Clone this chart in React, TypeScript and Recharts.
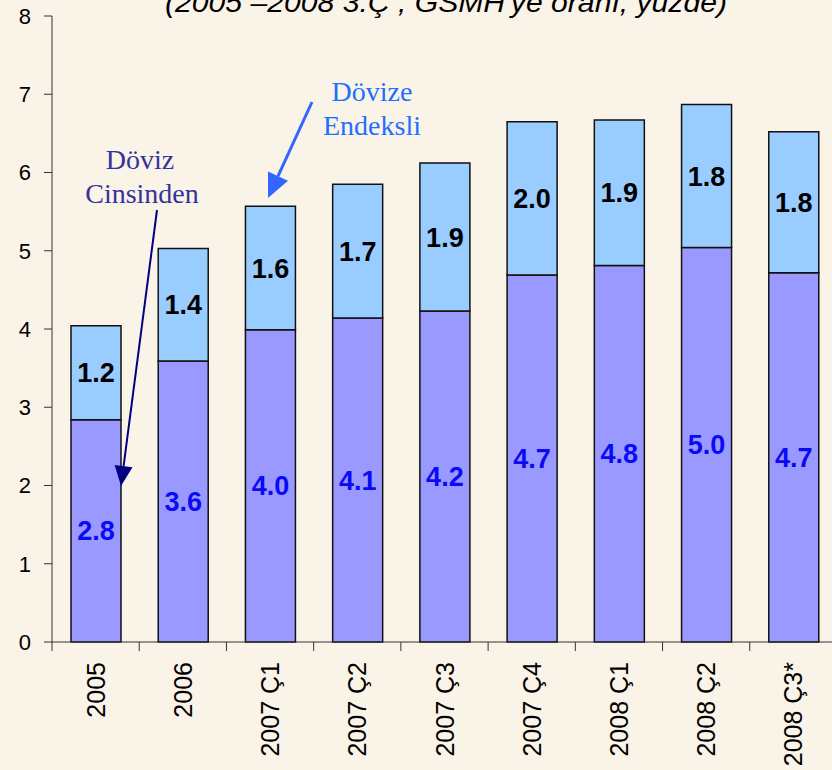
import { BarChart, Bar, XAxis, YAxis, LabelList } from 'recharts';

const periods = ['2005', '2006', '2007 Ç1', '2007 Ç2', '2007 Ç3', '2007 Ç4', '2008 Ç1', '2008 Ç2', '2008 Ç3*'];
const dovizCinsinden = [2.84, 3.59, 3.99, 4.14, 4.23, 4.69, 4.81, 5.04, 4.72];
const dovizeEndeksli = [1.2, 1.44, 1.58, 1.71, 1.89, 1.96, 1.86, 1.83, 1.8];
const yTicks = [0, 1, 2, 3, 4, 5, 6, 7, 8];

const data = periods.map((p, i) => ({
  period: p,
  cinsinden: dovizCinsinden[i],
  endeksli: dovizeEndeksli[i],
}));

const SANS = '"Liberation Sans", Arial, sans-serif';
const SERIF = '"Liberation Serif", "Times New Roman", serif';
const BAND = 785 / 9;

function CategoryTick(props: any) {
  const { x, y, payload, index } = props;
  const ty = y + 20;
  return (
    <g>
      <line x1={x - BAND / 2} x2={x - BAND / 2} y1={y} y2={y + 9} stroke="#333" strokeWidth={1} />
      {index === periods.length - 1 && (
        <line x1={x + BAND / 2} x2={x + BAND / 2} y1={y} y2={y + 9} stroke="#333" strokeWidth={1} />
      )}
      <text
        x={x}
        y={ty}
        transform={`rotate(-90, ${x}, ${ty})`}
        textAnchor="end"
        dominantBaseline="central"
        fontFamily={SANS}
        fontSize={25}
        fill="#000"
      >
        {payload.value}
      </text>
    </g>
  );
}

function Arrow({ x1, y1, x2, y2, color, len, half, width }: any) {
  const dx = x2 - x1;
  const dy = y2 - y1;
  const d = Math.hypot(dx, dy);
  const ux = dx / d;
  const uy = dy / d;
  const bx = x2 - ux * len;
  const by = y2 - uy * len;
  const pts = `${x2},${y2} ${bx - uy * half},${by + ux * half} ${bx + uy * half},${by - ux * half}`;
  return (
    <g>
      <line x1={x1} y1={y1} x2={bx} y2={by} stroke={color} strokeWidth={width} />
      <polygon points={pts} fill={color} />
    </g>
  );
}

const fmt = (v: any) => Number(v).toFixed(1);

export default function App() {
  return (
    <div
      style={{
        position: 'absolute',
        left: 0,
        top: 0,
        width: 832,
        height: 770,
        overflow: 'hidden',
        background: '#FAF3E8',
      }}
    >
      <BarChart
        width={845}
        height={770}
        data={data}
        margin={{ top: 16, right: 8, bottom: 0, left: 0 }}
        barSize={50}
      >
        <XAxis
          dataKey="period"
          height={128}
          interval={0}
          tickLine={false}
          tickSize={0}
          tickMargin={0}
          axisLine={{ stroke: '#333', strokeWidth: 1 }}
          tick={<CategoryTick />}
        />
        <YAxis
          width={52}
          domain={[0, 8]}
          ticks={yTicks}
          interval={0}
          tickSize={8}
          tickMargin={13}
          axisLine={{ stroke: '#333', strokeWidth: 1 }}
          tickLine={{ stroke: '#333', strokeWidth: 1 }}
          tick={{ fill: '#000', fontSize: 22, fontFamily: SANS }}
        />
        <Bar dataKey="cinsinden" stackId="a" fill="#9999FF" stroke="#111" strokeWidth={1.5} isAnimationActive={false}>
          <LabelList
            dataKey="cinsinden"
            position="center"
            formatter={fmt}
            fill="#0A0AF5"
            fontSize={27}
            fontWeight="bold"
            fontFamily={SANS}
          />
        </Bar>
        <Bar dataKey="endeksli" stackId="a" fill="#99CCFF" stroke="#111" strokeWidth={1.5} isAnimationActive={false}>
          <LabelList
            dataKey="endeksli"
            position="center"
            formatter={fmt}
            fill="#000"
            fontSize={27}
            fontWeight="bold"
            fontFamily={SANS}
          />
        </Bar>
      </BarChart>
      <svg
        width={832}
        height={770}
        style={{ position: 'absolute', left: 0, top: 0, pointerEvents: 'none' }}
      >
        <text
          x={446}
          y={12}
          textAnchor="middle"
          textLength={562}
          lengthAdjust="spacingAndGlyphs"
          fontFamily={SANS}
          fontStyle="italic"
          fontSize={27}
          fill="#000"
        >
          (2005 –2008 3.Ç , GSMH'ye oranı, yüzde)
        </text>
        <text x={372} y={101} textAnchor="middle" fontFamily={SERIF} fontSize={28} fill="#2070FF">
          Dövize
        </text>
        <text x={372} y={135} textAnchor="middle" fontFamily={SERIF} fontSize={28} fill="#2070FF">
          Endeksli
        </text>
        <text x={140} y={169} textAnchor="middle" fontFamily={SERIF} fontSize={28} fill="#333399">
          Döviz
        </text>
        <text x={142} y={203} textAnchor="middle" fontFamily={SERIF} fontSize={28} fill="#333399">
          Cinsinden
        </text>
        <Arrow x1={312} y1={102} x2={268} y2={198} color="#3366FF" len={24} half={11} width={3} />
        <Arrow x1={157} y1={210} x2={121} y2={486} color="#000080" len={20} half={9} width={2} />
      </svg>
    </div>
  );
}
